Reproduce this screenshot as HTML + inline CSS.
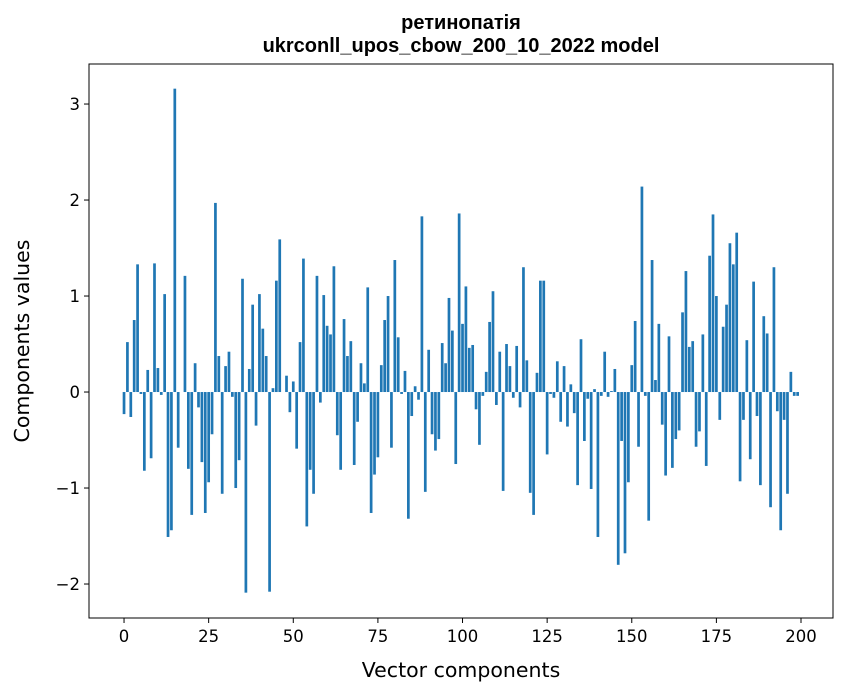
<!DOCTYPE html>
<html><head><meta charset="utf-8"><style>
body{margin:0;background:#fff;}
svg{display:block;}
text{font-family:"DejaVu Sans","Liberation Sans",sans-serif;fill:#000;}
</style></head><body>
<svg id="chart" width="847" height="696" xmlns="http://www.w3.org/2000/svg">
<rect x="0" y="0" width="847" height="696" fill="#fff"/>
<text x="461" y="29" text-anchor="middle" style="font-family:'Liberation Sans',sans-serif;font-weight:bold;font-size:20px">ретинопатія</text>
<text x="461" y="52" text-anchor="middle" style="font-family:'Liberation Sans',sans-serif;font-weight:bold;font-size:20px">ukrconll_upos_cbow_200_10_2022 model</text>
<g id="bars"></g>
<g id="xaxis"></g>
<g id="yaxis"></g>
<rect x="89" y="64" width="744" height="554" fill="none" stroke="#000" stroke-width="1"/>
<text x="461" y="677" text-anchor="middle" font-size="20.5">Vector components</text>
<text transform="translate(29,341) rotate(-90)" text-anchor="middle" font-size="20.5">Components values</text>
</svg>
<script>
const values = [-0.23,0.52,-0.26,0.75,1.33,-0.02,-0.82,0.23,-0.69,1.34,
0.25,-0.03,1.02,-1.51,-1.44,3.16,-0.58,0.0,1.21,-0.80,
-1.28,0.30,-0.16,-0.73,-1.26,-0.94,-0.44,1.97,0.375,-1.06,
0.27,0.42,-0.05,-1.0,-0.71,1.18,-2.09,0.24,0.91,-0.35,
1.02,0.66,0.375,-2.08,0.04,1.16,1.59,0.0,0.17,-0.21,
0.11,-0.59,0.52,1.39,-1.40,-0.81,-1.06,1.21,-0.11,1.01,
0.69,0.60,1.31,-0.45,-0.81,0.76,0.375,0.53,-0.76,-0.31,
0.30,0.09,1.09,-1.26,-0.86,-0.68,0.28,0.75,1.0,-0.58,
1.375,0.57,-0.02,0.22,-1.32,-0.25,0.06,-0.08,1.83,-1.04,
0.44,-0.44,-0.61,-0.49,0.51,0.30,0.98,0.64,-0.75,1.86,
0.71,1.10,0.46,0.49,-0.18,-0.55,-0.04,0.21,0.73,1.05,
-0.135,0.42,-1.03,0.50,0.27,-0.06,0.48,-0.16,1.30,0.33,
-1.05,-1.28,0.20,1.16,1.16,-0.65,-0.02,-0.06,0.32,-0.31,
0.27,-0.36,0.08,-0.22,-0.97,0.55,-0.51,-0.07,-1.01,0.03,
-1.51,-0.04,0.42,-0.05,0.01,0.24,-1.80,-0.51,-1.68,-0.94,
0.28,0.74,-0.57,2.14,-0.04,-1.34,1.375,0.125,0.71,-0.34,
-0.87,0.58,-0.79,-0.49,-0.40,0.83,1.26,0.47,0.53,-0.57,
-0.41,0.60,-0.77,1.42,1.85,1.0,-0.29,0.68,0.91,1.55,
1.33,1.66,-0.93,-0.29,0.54,-0.70,1.15,-0.25,-0.97,0.79,
0.61,-1.20,1.30,-0.20,-1.44,-0.29,-1.06,0.21,-0.04,-0.04];
const xTicks = [0,25,50,75,100,125,150,175,200];
const yTicks = [-2,-1,0,1,2,3];
const yTickLabels = ["\u22122","\u22121","0","1","2","3"];

const NS="http://www.w3.org/2000/svg";
const L=89,R=833,T=64,B=618;
const xMin=-10.35,xMax=209.45,yMin=-2.354,yMax=3.417;
function sx(v){return L+(v-xMin)/(xMax-xMin)*(R-L);}
function sy(v){return B-(v-yMin)/(yMax-yMin)*(B-T);}
function mk(tag,attrs){const e=document.createElementNS(NS,tag);for(const k in attrs)e.setAttribute(k,attrs[k]);return e;}

const bars=document.getElementById('bars');
const bw=sx(0.8)-sx(0);
values.forEach((v,i)=>{
  const y0=sy(0),y1=sy(v);
  const r=mk('rect',{x:sx(i)-bw/2,y:Math.min(y0,y1),width:bw,height:Math.abs(y1-y0),fill:'#1f77b4'});
  
  
  bars.appendChild(r);
});
const xa=document.getElementById('xaxis');
xTicks.forEach(t=>{
  const x=sx(t);
  const ln=mk('line',{x1:x,x2:x,y1:B,y2:B+5,stroke:'#000','stroke-width':1});
  
  
  xa.appendChild(ln);
  const tx=mk('text',{x:x,y:B+24,'text-anchor':'middle','font-size':16.5});
  tx.textContent=t;
  
  
  xa.appendChild(tx);
});
const ya=document.getElementById('yaxis');
yTicks.forEach((t,i)=>{
  const y=sy(t);
  const ln=mk('line',{x1:L-5,x2:L,y1:y,y2:y,stroke:'#000','stroke-width':1});
  
  
  ya.appendChild(ln);
  const tx=mk('text',{x:L-9,y:y+6,'text-anchor':'end','font-size':16.5});
  tx.textContent=yTickLabels[i];
  
  
  ya.appendChild(tx);
});
</script>
</body></html>
